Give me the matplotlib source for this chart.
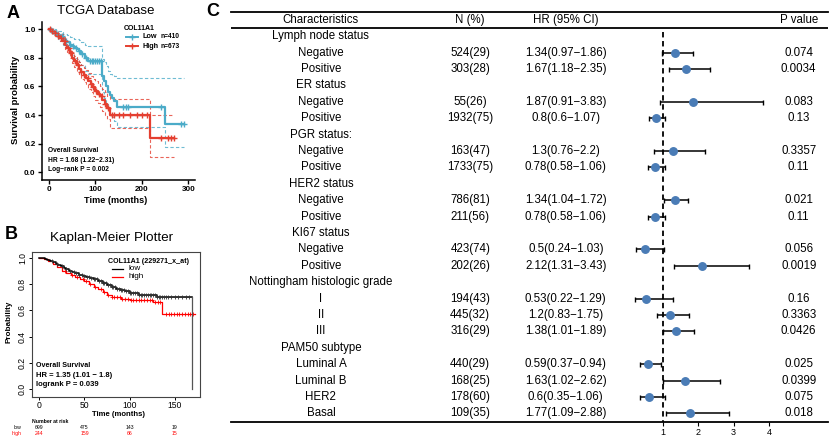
import matplotlib
matplotlib.use("Agg")
import matplotlib.pyplot as plt
from matplotlib.lines import Line2D
from matplotlib.transforms import blended_transform_factory
import numpy as np

plt.rcParams['font.family'] = ['Liberation Sans', 'DejaVu Sans']

# ---------------- Panel A data (TCGA) ----------------
A_low_t = [0, 4, 8, 12, 16, 20, 25, 30, 35, 40, 45, 50, 55, 60, 65, 70, 78, 85, 114, 118, 122, 127, 131, 136, 141, 147, 250]
A_low_s = [1.0, 0.995, 0.99, 0.98, 0.97, 0.96, 0.95, 0.93, 0.92, 0.91, 0.89, 0.88, 0.87, 0.86, 0.85, 0.83, 0.80, 0.78, 0.67, 0.64, 0.60, 0.56, 0.54, 0.52, 0.50, 0.46, 0.34]
A_low_lo = [1.0, 0.985, 0.975, 0.96, 0.945, 0.93, 0.915, 0.89, 0.875, 0.86, 0.835, 0.82, 0.80, 0.79, 0.77, 0.75, 0.71, 0.69, 0.56, 0.52, 0.48, 0.44, 0.41, 0.39, 0.36, 0.32, 0.18]
A_low_hi = [1.0, 1.0, 1.0, 1.0, 0.995, 0.99, 0.985, 0.97, 0.965, 0.96, 0.945, 0.94, 0.935, 0.93, 0.925, 0.91, 0.89, 0.88, 0.79, 0.77, 0.74, 0.71, 0.69, 0.68, 0.67, 0.66, 0.66]
A_low_end = 290
A_low_cens = [5, 10, 18, 28, 38, 45, 52, 58, 66, 72, 80, 88, 92, 96, 100, 104, 108, 112, 160, 165, 170, 240, 285, 290]

A_high_t = [0, 4, 8, 12, 16, 20, 25, 30, 35, 40, 45, 50, 55, 60, 65, 70, 75, 80, 85, 90, 95, 100, 105, 110, 115, 120, 125, 132, 218]
A_high_s = [1.0, 0.99, 0.985, 0.975, 0.965, 0.955, 0.94, 0.92, 0.89, 0.87, 0.835, 0.80, 0.775, 0.75, 0.725, 0.70, 0.68, 0.66, 0.64, 0.62, 0.595, 0.57, 0.55, 0.53, 0.505, 0.48, 0.45, 0.40, 0.24]
A_high_lo = [1.0, 0.98, 0.975, 0.96, 0.95, 0.94, 0.92, 0.895, 0.865, 0.84, 0.80, 0.765, 0.735, 0.71, 0.68, 0.655, 0.63, 0.61, 0.585, 0.56, 0.535, 0.505, 0.485, 0.46, 0.43, 0.40, 0.37, 0.31, 0.11]
A_high_hi = [1.0, 1.0, 0.995, 0.99, 0.985, 0.975, 0.965, 0.945, 0.92, 0.905, 0.87, 0.84, 0.815, 0.795, 0.77, 0.75, 0.73, 0.715, 0.695, 0.675, 0.655, 0.635, 0.615, 0.60, 0.58, 0.56, 0.53, 0.51, 0.40]
A_high_end = 270
A_high_cens = [3, 8, 14, 20, 26, 34, 42, 48, 56, 62, 70, 76, 84, 90, 96, 102, 108, 114, 120, 128, 136, 140, 150, 160, 175, 190, 200, 210, 240, 255, 262, 270]

# ---------------- Panel B data (KM plotter) ----------------
B_low_t = [0, 3, 6, 9, 12, 15, 18, 21, 24, 27, 30, 33, 36, 40, 44, 48, 52, 56, 60, 65, 70, 75, 80, 85, 90, 95, 100, 105, 110, 115, 130]
B_low_s = [1.0, 0.995, 0.99, 0.985, 0.975, 0.965, 0.955, 0.945, 0.935, 0.925, 0.915, 0.90, 0.89, 0.88, 0.87, 0.86, 0.855, 0.845, 0.835, 0.82, 0.805, 0.79, 0.775, 0.765, 0.755, 0.745, 0.735, 0.73, 0.72, 0.715, 0.70]
B_low_end = 169
B_low_cens = [14, 20, 25, 30, 34, 38, 41, 44, 47, 50, 53, 55, 57, 60, 62, 64, 66, 68, 70, 72, 74, 76, 78, 80, 82, 84, 86, 88, 90, 92, 94, 96, 98, 100, 102, 104, 106, 108, 110, 112, 114, 116, 118, 120, 122, 124, 126, 128, 130, 132, 134, 136, 138, 140, 142, 146, 150, 154, 158, 162, 166]

B_high_t = [0, 5, 10, 15, 20, 25, 30, 35, 40, 45, 50, 55, 60, 65, 70, 75, 80, 90, 100, 126, 136]
B_high_s = [1.0, 0.99, 0.975, 0.955, 0.93, 0.90, 0.885, 0.87, 0.85, 0.835, 0.82, 0.80, 0.78, 0.76, 0.74, 0.72, 0.705, 0.69, 0.68, 0.665, 0.57]
B_high_end = 172
B_high_cens = [28, 36, 42, 48, 52, 56, 62, 68, 72, 76, 80, 83, 86, 89, 92, 95, 98, 101, 104, 107, 110, 113, 116, 119, 122, 125, 128, 131, 134, 140, 143, 146, 149, 152, 155, 158, 161, 164, 167, 170]

B_risk_times = [0, 50, 100, 150]
B_risk_low = [699, 475, 143, 19]
B_risk_high = [244, 159, 66, 15]

# ---------------- Panel C data (forest) ----------------
C_labels = ["Lymph node status", "Negative", "Positive", "ER status", "Negative", "Positive",
            "PGR status:", "Negative", "Positive", "HER2 status", "Negative", "Positive",
            "KI67 status", "Negative", "Positive", "Nottingham histologic grade", "I", "II", "III",
            "PAM50 subtype", "Luminal A", "Luminal B", "HER2", "Basal"]
C_n = ["", "524(29)", "303(28)", "", "55(26)", "1932(75)", "", "163(47)", "1733(75)", "",
       "786(81)", "211(56)", "", "423(74)", "202(26)", "", "194(43)", "445(32)", "316(29)", "",
       "440(29)", "168(25)", "178(60)", "109(35)"]
C_hr = [None, 1.34, 1.67, None, 1.87, 0.8, None, 1.3, 0.78, None, 1.34, 0.78, None, 0.5, 2.12,
        None, 0.53, 1.2, 1.38, None, 0.59, 1.63, 0.6, 1.77]
C_lo = [None, 0.97, 1.18, None, 0.91, 0.6, None, 0.76, 0.58, None, 1.04, 0.58, None, 0.24, 1.31,
        None, 0.22, 0.83, 1.01, None, 0.37, 1.02, 0.35, 1.09]
C_hi = [None, 1.86, 2.35, None, 3.83, 1.07, None, 2.2, 1.06, None, 1.72, 1.06, None, 1.03, 3.43,
        None, 1.29, 1.75, 1.89, None, 0.94, 2.62, 1.06, 2.88]
C_p = ["", "0.074", "0.0034", "", "0.083", "0.13", "", "0.3357", "0.11", "", "0.021", "0.11", "",
       "0.056", "0.0019", "", "0.16", "0.3363", "0.0426", "", "0.025", "0.0399", "0.075", "0.018"]
C_ticks = [1, 2, 3, 4]

TEAL = "#4BABC8"
RED = "#E43F30"
DOT = "#4A7CB6"

W, H = 830, 440
fig = plt.figure(figsize=(8.3, 4.4), dpi=100)


def rect(l, t, r, b):
    return [l / W, 1 - b / H, (r - l) / W, (b - t) / H]


def ftext(x, y, s, **kw):
    fig.text(x / W, 1 - y / H, s, **kw)


def fline(xs, ys, **kw):
    fig.add_artist(Line2D([x / W for x in xs], [1 - y / H for y in ys],
                          transform=fig.transFigure, **kw))


def step_at(t, s, c):
    idx = np.searchsorted(np.asarray(t), c, side='right') - 1
    return np.asarray(s)[idx]


def km(ax, t, s, tend, **kw):
    ax.step(list(t) + [tend], list(s) + [s[-1]], where='post', **kw)


# ================= Panel A =================
axA = fig.add_axes(rect(41.7, 22, 195, 180))
axA.set_xlim(-15, 314)
axA.set_ylim(-0.054, 1.051)
for t, lo, hi, end, col in [(A_low_t, A_low_lo, A_low_hi, A_low_end, TEAL),
                            (A_high_t, A_high_lo, A_high_hi, A_high_end, RED)]:
    km(axA, t, lo, end, color=col, lw=0.8, ls=(0, (3, 2)), alpha=0.8)
    km(axA, t, hi, end, color=col, lw=0.8, ls=(0, (3, 2)), alpha=0.8)
km(axA, A_low_t, A_low_s, A_low_end, color=TEAL, lw=1.6)
km(axA, A_high_t, A_high_s, A_high_end, color=RED, lw=1.6)
axA.plot(A_low_cens, step_at(A_low_t, A_low_s, A_low_cens), '+', color=TEAL, ms=4, mew=1.0)
axA.plot(A_high_cens, step_at(A_high_t, A_high_s, A_high_cens), '+', color=RED, ms=4, mew=1.0)
for sp in ['top', 'right']:
    axA.spines[sp].set_visible(False)
for sp in ['left', 'bottom']:
    axA.spines[sp].set_linewidth(1.1)
axA.set_xticks([0, 100, 200, 300])
axA.set_yticks([0, 0.2, 0.4, 0.6, 0.8, 1.0])
axA.set_yticklabels(["0.0", "0.2", "0.4", "0.6", "0.8", "1.0"])
axA.tick_params(length=3, width=1.0, pad=1.5, labelsize=5.8)
for lab in axA.get_xticklabels() + axA.get_yticklabels():
    lab.set_fontweight('bold')
ftext(13, 13.5, "A", fontsize=13, fontweight='bold', ha='center', va='center')
ftext(106, 11.5, "TCGA Database", fontsize=9.6, ha='center', va='center')
ftext(15, 100, "Survival probability", fontsize=6.8, fontweight='bold', rotation=90,
      ha='center', va='center')
ftext(116, 200, "Time (months)", fontsize=6.6, fontweight='bold', ha='center', va='center')
# legend A
ftext(124, 28, "COL11A1", fontsize=5, fontweight='bold', ha='left', va='center')
for yy, col, lab, n in [(37, TEAL, "Low", "n=410"), (46, RED, "High", "n=673")]:
    fline([126, 138], [yy, yy], color=col, lw=1.4)
    fline([132], [yy], color=col, marker='+', ms=4, mew=1.0, lw=0)
    ftext(142.5, yy, lab, fontsize=5.2, fontweight='bold', ha='left', va='center')
    ftext(160, yy, n, fontsize=4.8, fontweight='bold', ha='left', va='center')
ftext(48.3, 150, "Overall Survival", fontsize=4.8, fontweight='bold', ha='left', va='center')
ftext(48.3, 160, "HR = 1.68 (1.22\u22122.31)", fontsize=4.8, fontweight='bold', ha='left', va='center')
ftext(48.3, 169.3, "Log\u2212rank P = 0.002", fontsize=4.8, fontweight='bold', ha='left', va='center')

# ================= Panel B =================
axB = fig.add_axes(rect(31.7, 252.3, 200, 396.7))
axB.set_xlim(-8.4, 177.8)
axB.set_ylim(-0.056, 1.041)
km(axB, B_high_t, B_high_s, B_high_end, color='red', lw=0.9)
axB.plot(B_high_cens, step_at(B_high_t, B_high_s, B_high_cens), '+', color='red', ms=3, mew=0.6)
km(axB, B_low_t, B_low_s, B_low_end, color='black', lw=1.1)
axB.plot([B_low_end, B_low_end], [B_low_s[-1], 0], color='#555555', lw=0.9)
axB.plot(B_low_cens, step_at(B_low_t, B_low_s, B_low_cens), '+', color='#333333', ms=3, mew=0.6)
for sp in axB.spines.values():
    sp.set_linewidth(0.8)
    sp.set_color('#444444')
axB.set_xticks([0, 50, 100, 150])
axB.set_yticks([0, 0.2, 0.4, 0.6, 0.8, 1.0])
axB.set_yticklabels(["0.0", "0.2", "0.4", "0.6", "0.8", "1.0"], rotation=90, va='center')
axB.tick_params(length=2.5, width=0.7, pad=0.8, labelsize=6.2)
ftext(11.5, 234, "B", fontsize=13, fontweight='bold', ha='center', va='center')
ftext(112, 238, "Kaplan-Meier Plotter", fontsize=9.7, ha='center', va='center')
ftext(9.5, 322, "Probability", fontsize=5.9, fontweight='bold', rotation=90, ha='center', va='center')
ftext(118, 414, "Time (months)", fontsize=5.6, fontweight='bold', ha='center', va='center')
ftext(108.3, 261.7, "COL11A1 (229271_x_at)", fontsize=5.1, fontweight='bold', ha='left', va='center')
for yy, col, lab in [(269, 'black', 'low'), (276.7, 'red', 'high')]:
    fline([111.7, 123.3], [yy, yy], color=col, lw=0.9)
    ftext(128.3, yy, lab, fontsize=5.9, ha='left', va='center')
ftext(36.5, 365.5, "Overall Survival", fontsize=5.1, fontweight='bold', ha='left', va='center')
ftext(36.5, 375, "HR = 1.35 (1.01 \u2212 1.8)", fontsize=5.5, fontweight='bold', ha='left', va='center')
ftext(36.5, 384.3, "logrank P = 0.039", fontsize=5.5, fontweight='bold', ha='left', va='center')
# risk table
trB = blended_transform_factory(axB.transData, fig.transFigure)
ftext(31.7, 421.2, "Number at risk", fontsize=3.7, fontweight='bold', ha='left', va='center')
ftext(21.5, 427.2, "low", fontsize=3.7, ha='right', va='center')
ftext(21.5, 433.5, "high", fontsize=3.7, ha='right', va='center', color='red')
for tt, nl, nh in zip(B_risk_times, B_risk_low, B_risk_high):
    axB.text(tt, 1 - 427.2 / H, str(nl), transform=trB, fontsize=3.7, ha='center', va='center',
             clip_on=False)
    axB.text(tt, 1 - 433.5 / H, str(nh), transform=trB, fontsize=3.7, ha='center', va='center',
             color='red', clip_on=False)

# ================= Panel C =================
left_px, right_px = 230.7, 828
x1_px, unit_px = 662.7, 35.4
axC = fig.add_axes(rect(left_px, 11.7, right_px, 421.5))
axC.set_xlim(1 + (left_px - x1_px) / unit_px, 1 + (right_px - x1_px) / unit_px)
axC.set_ylim(24.5, -0.5)
axC.patch.set_alpha(0)
for sp in ['left', 'right']:
    axC.spines[sp].set_visible(False)
for sp in ['top', 'bottom']:
    axC.spines[sp].set_linewidth(1.3)
axC.axhline(0.5, color='black', lw=1.3)
axC.set_yticks([])
axC.set_xticks(C_ticks)
axC.set_xticklabels([str(v) for v in C_ticks])
axC.tick_params(axis='x', length=3, width=0.8, pad=1.5, labelsize=6.5)
axC.vlines(1, 0.75, 24.5, colors='black', linestyles=(0, (3, 2)), lw=1.3)

rows = np.arange(1, len(C_labels) + 1)
trC = axC.get_yaxis_transform()
fs = 8.3
axC.text(0.151, 0, "Characteristics", transform=trC, fontsize=fs, ha='center', va='center')
axC.text(0.401, 0, "N (%)", transform=trC, fontsize=fs, ha='center', va='center')
axC.text(0.561, 0, "HR (95% CI)", transform=trC, fontsize=fs, ha='center', va='center')
axC.text(0.951, 0, "P value", transform=trC, fontsize=fs, ha='center', va='center')
for r, lab, n, hr, lo, hi, p in zip(rows, C_labels, C_n, C_hr, C_lo, C_hi, C_p):
    axC.text(0.151, r, lab, transform=trC, fontsize=fs, ha='center', va='center')
    if hr is None:
        continue
    axC.text(0.401, r, n, transform=trC, fontsize=fs, ha='center', va='center')
    axC.text(0.561, r, f"{hr:g}({lo:g}\u2212{hi:g})", transform=trC, fontsize=fs,
             ha='center', va='center')
    axC.text(0.951, r, p, transform=trC, fontsize=fs, ha='center', va='center')

mask = [h is not None for h in C_hr]
yv = rows[mask]
hv = np.array([h for h in C_hr if h is not None])
lv = np.array([h for h in C_lo if h is not None])
uv = np.array([h for h in C_hi if h is not None])
axC.errorbar(hv, yv, xerr=[hv - lv, uv - hv], fmt='none', ecolor='black', elinewidth=1.1,
             capsize=1.8, capthick=1.0, zorder=3)
axC.plot(hv, yv, 'o', color=DOT, ms=5.4, zorder=4)
ftext(213, 12, "C", fontsize=13, fontweight='bold', ha='center', va='center')

fig.savefig("out.png", dpi=100)
